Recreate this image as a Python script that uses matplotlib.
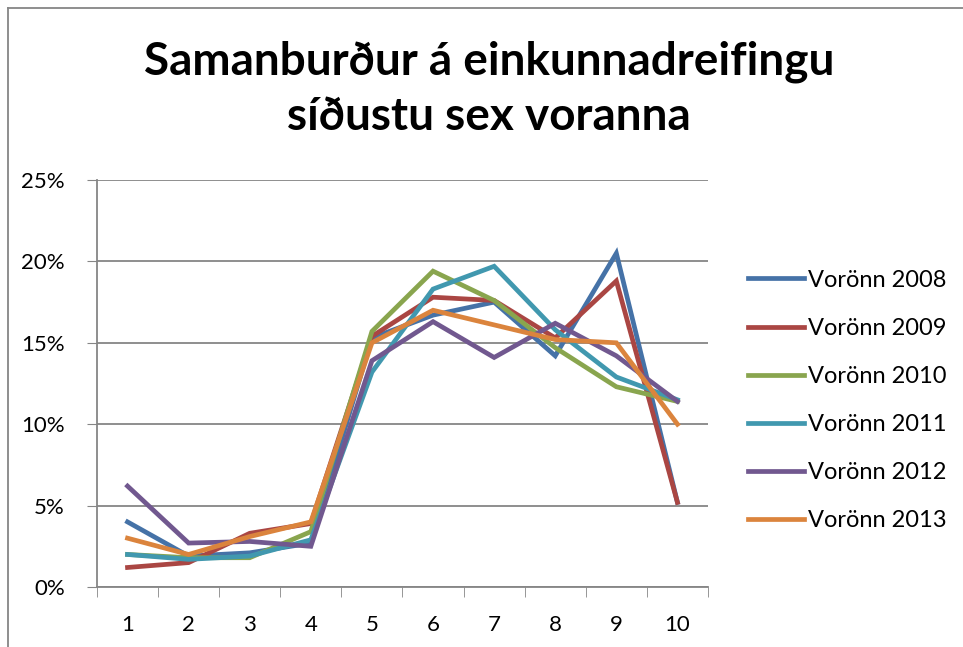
import matplotlib.pyplot as plt
from matplotlib.lines import Line2D
from matplotlib.ticker import PercentFormatter, FixedLocator

plt.rcParams['font.family'] = ['Lato', 'DejaVu Sans']

# einkunnir 1-10
einkunnir = [1, 2, 3, 4, 5, 6, 7, 8, 9, 10]
v2008 = [0.040, 0.019, 0.021, 0.027, 0.153, 0.167, 0.175, 0.142, 0.205, 0.052]
v2009 = [0.012, 0.015, 0.033, 0.039, 0.154, 0.178, 0.176, 0.153, 0.188, 0.052]
v2010 = [0.020, 0.018, 0.018, 0.034, 0.157, 0.194, 0.176, 0.147, 0.123, 0.114]
v2011 = [0.020, 0.017, 0.019, 0.029, 0.132, 0.183, 0.197, 0.158, 0.129, 0.115]
v2012 = [0.062, 0.027, 0.028, 0.025, 0.139, 0.163, 0.141, 0.162, 0.142, 0.114]
v2013 = [0.030, 0.020, 0.031, 0.040, 0.150, 0.170, 0.161, 0.152, 0.150, 0.100]
nofn = ['Vorönn 2008', 'Vorönn 2009', 'Vorönn 2010',
        'Vorönn 2011', 'Vorönn 2012', 'Vorönn 2013']
litir = ['#4572A7', '#AA4643', '#89A54E', '#4198AF', '#71588F', '#DB843D']

fig = plt.figure(figsize=(9.63, 6.47), dpi=100)
ax = fig.add_axes([0.1007, 0.0927, 0.6345, 0.6291])

for gogn, nafn, litur in zip([v2008, v2009, v2010, v2011, v2012, v2013], nofn, litir):
    ax.plot(einkunnir, gogn, color=litur, lw=3.4, label=nafn, solid_joinstyle='miter')

ax.set_xlim(0.5, 10.5)
ax.set_ylim(0, 0.25)
ax.set_yticks([0, 0.05, 0.10, 0.15, 0.20, 0.25])
ax.yaxis.set_major_formatter(PercentFormatter(1.0, decimals=0))
ax.set_xticks(einkunnir)
ax.xaxis.set_minor_locator(FixedLocator([x + 0.5 for x in range(0, 11)]))
ax.tick_params(axis='x', which='major', length=0, pad=20, labelsize=16)
ax.tick_params(axis='x', which='minor', length=7, color='#868686', direction='out')
ax.tick_params(axis='y', length=7, color='#868686', labelsize=16, pad=16)
ax.grid(axis='y', color='#868686', lw=1.3)
ax.set_axisbelow(True)
for s in ['top', 'right']:
    ax.spines[s].set_visible(False)
for s in ['left', 'bottom']:
    ax.spines[s].set_color('#868686')
    ax.spines[s].set_linewidth(1.3)

ax.legend(loc='center left', bbox_to_anchor=(1.0655, 0.458), frameon=False,
          fontsize=17, handlelength=2.35, handletextpad=0.2, labelspacing=1.15,
          borderpad=0, borderaxespad=0)

fig.text(0.508, 0.862, 'Samanburður á einkunnadreifingu\nsíðustu sex voranna',
         ha='center', va='center', fontsize=33, fontweight='bold', linespacing=1.38)

# rammi
fig.add_artist(Line2D([0.008, 0.008], [0, 0.988], color='#868686', lw=1.3))
fig.add_artist(Line2D([0.008, 1.0], [0.988, 0.988], color='#868686', lw=1.3))

fig.savefig('out.png', dpi=100)
